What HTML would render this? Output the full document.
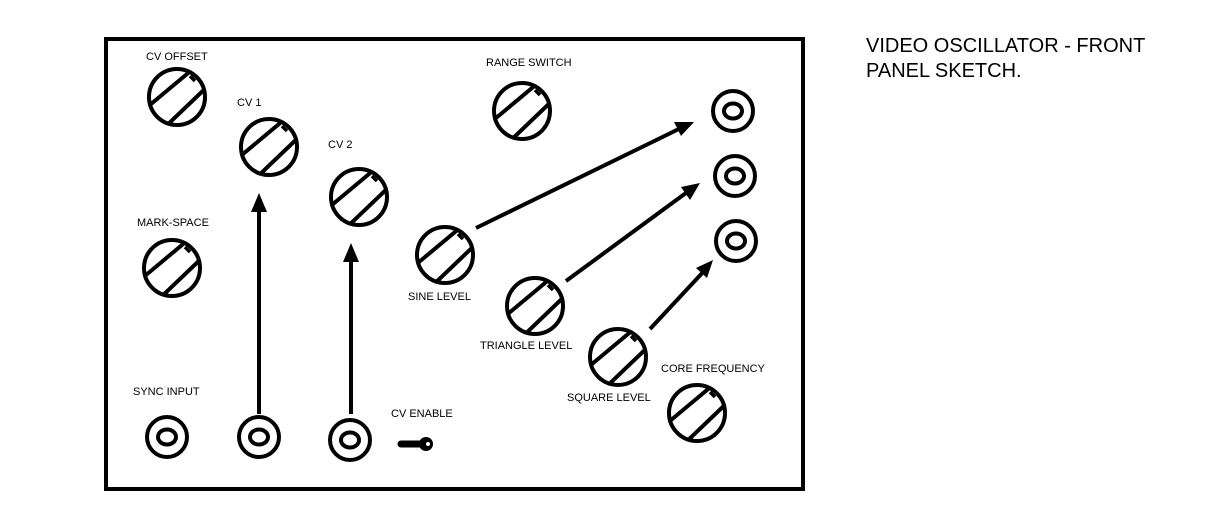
<!DOCTYPE html>
<html><head><style>
html,body{margin:0;padding:0;background:#fff;}
svg{display:block;}
text{font-family:"Liberation Sans",sans-serif;font-size:11px;fill:#000;}
</style></head><body>
<svg width="1208" height="522" viewBox="0 0 1208 522">
<defs>
<clipPath id="kc"><circle cx="0" cy="0" r="28"/></clipPath>
<g id="knob">
<circle cx="0" cy="0" r="28" fill="#fff" stroke="#000" stroke-width="4"/>
<g clip-path="url(#kc)" stroke="#000" stroke-width="4" fill="none">
<line x1="-32" y1="12" x2="16" y2="-28"/>
<line x1="-14" y1="32" x2="32" y2="-12"/>
<path d="M13,-21 L18,-16" stroke-width="3.5"/>
</g>
</g>
<g id="jack" fill="none" stroke="#000">
<circle cx="0" cy="0" r="20" stroke-width="4"/>
<ellipse cx="0" cy="0" rx="9" ry="7.5" stroke-width="4"/>
</g>
</defs>
<rect x="106" y="39" width="697" height="450" fill="none" stroke="#000" stroke-width="4"/>

<use href="#knob" x="177" y="97"/>
<use href="#knob" x="269" y="147"/>
<use href="#knob" x="359" y="197"/>
<use href="#knob" x="522" y="111"/>
<use href="#knob" x="172" y="268"/>
<use href="#knob" x="445" y="255"/>
<use href="#knob" x="535" y="306"/>
<use href="#knob" x="618" y="357"/>
<use href="#knob" x="697" y="413"/>

<use href="#jack" x="167" y="437"/>
<use href="#jack" x="259" y="437"/>
<use href="#jack" x="350" y="440"/>
<use href="#jack" x="733" y="111"/>
<use href="#jack" x="735" y="176"/>
<use href="#jack" x="736" y="241"/>

<line x1="401" y1="444" x2="420" y2="444" stroke="#000" stroke-width="7" stroke-linecap="round"/>
<circle cx="426" cy="444" r="7" fill="#000"/>
<circle cx="428" cy="444" r="2" fill="#fff"/>

<g stroke="#000" stroke-width="4" fill="none">
<line x1="259" y1="414" x2="259" y2="205"/>
<line x1="351" y1="414" x2="351" y2="255"/>
<line x1="476" y1="228" x2="683" y2="127"/>
<line x1="566" y1="281" x2="690" y2="190"/>
<line x1="650" y1="329" x2="705" y2="270"/>
</g>
<g fill="#000">
<polygon points="259,193 251,212 267,212"/>
<polygon points="351,243 343,262 359,262"/>
<polygon points="694,122 674,122 681,136"/>
<polygon points="700,183 681,187 690,200"/>
<polygon points="713,260 696,268 707,278"/>
</g>

<text x="146" y="60">CV OFFSET</text>
<text x="237" y="106">CV 1</text>
<text x="328" y="148">CV 2</text>
<text x="486" y="66">RANGE SWITCH</text>
<text x="137" y="226">MARK-SPACE</text>
<text x="408" y="300">SINE LEVEL</text>
<text x="480" y="349">TRIANGLE LEVEL</text>
<text x="567" y="401">SQUARE LEVEL</text>
<text x="661" y="372">CORE FREQUENCY</text>
<text x="133" y="395">SYNC INPUT</text>
<text x="391" y="417">CV ENABLE</text>
<text x="866" y="52" style="font-size:20px">VIDEO OSCILLATOR - FRONT</text>
<text x="866" y="77" style="font-size:20px">PANEL SKETCH.</text>
</svg>
</body></html>
